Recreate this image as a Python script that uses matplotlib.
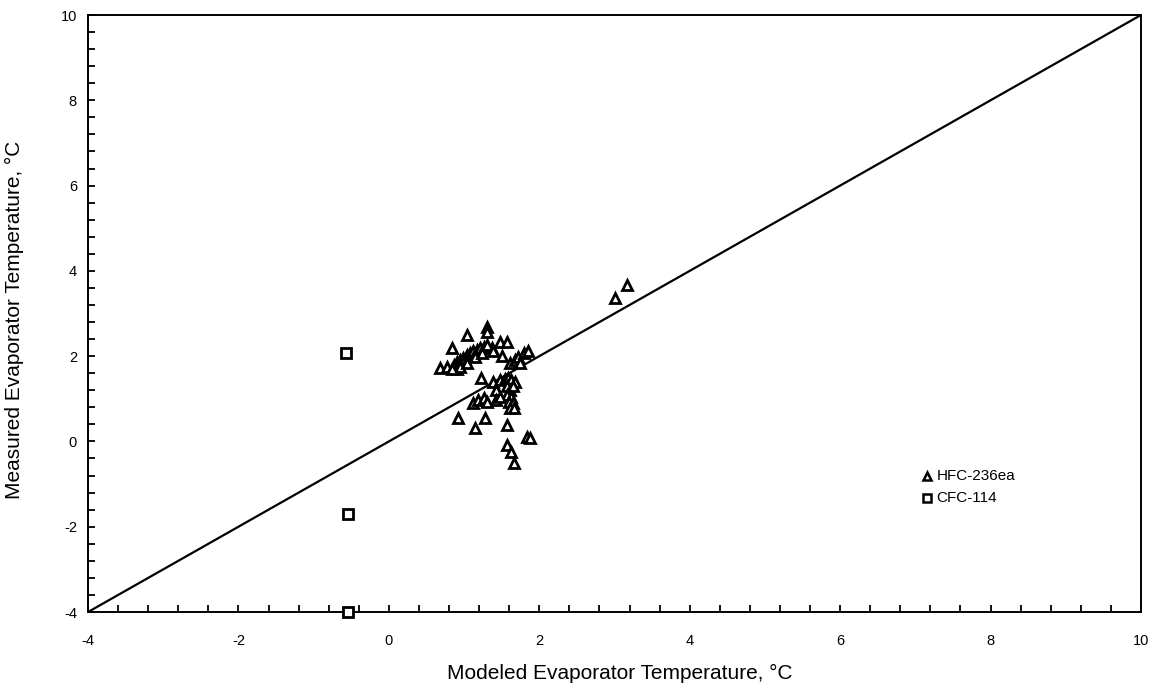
import matplotlib
matplotlib.use("Agg")
import matplotlib.pyplot as plt
from matplotlib.ticker import MultipleLocator
import numpy as np

plt.rcParams['font.family'] = ['Liberation Sans', 'DejaVu Sans']
plt.rcParams['axes.unicode_minus'] = False

hfc_x = [1.30, 1.30, 1.04, 1.48, 1.57, 0.84, 1.37, 1.50,
         0.68, 0.77, 0.86, 0.90, 0.95, 0.99, 1.04, 1.08, 1.12, 1.17, 1.21, 1.26, 1.30,
         0.90, 0.95, 0.84, 1.04, 1.15, 1.24, 1.39,
         1.61, 1.68, 1.72, 1.79, 1.85, 1.75,
         1.23, 1.39, 1.48, 1.55, 1.59, 1.63, 1.68,
         1.57, 1.61, 1.65, 1.57, 1.63, 1.60, 1.65, 1.61, 1.67,
         1.43, 1.43, 1.48,
         1.12, 1.19, 1.26, 1.30,
         0.92, 1.28, 1.15, 1.57, 1.83, 1.88, 1.57, 1.63, 1.66,
         3.01, 3.17]
hfc_y = [2.69, 2.57, 2.50, 2.34, 2.34, 2.18, 2.18, 2.00,
         1.72, 1.74, 1.79, 1.87, 1.91, 1.95, 2.03, 2.07, 2.11, 2.14, 2.18, 2.22, 2.26,
         1.71, 1.75, 1.69, 1.83, 1.99, 2.07, 2.12,
         1.83, 1.91, 1.99, 2.07, 2.11, 1.84,
         1.48, 1.40, 1.43, 1.46, 1.48, 1.43, 1.40,
         1.29, 1.21, 1.29, 1.09, 1.05, 0.93, 0.89, 0.78, 0.78,
         1.21, 0.97, 1.05,
         0.89, 0.97, 1.01, 0.93,
         0.54, 0.54, 0.31, 0.39, 0.11, 0.07, -0.08, -0.24, -0.51,
         3.36, 3.67]

cfc_x = [-0.57, -0.54, -0.55]
cfc_y = [2.07, -1.70, -4.0]

line_x = [-4, 10]
line_y = [-4, 10]

fig = plt.figure(figsize=(11.6, 6.92), dpi=100)
ax = fig.add_axes([0.0759, 0.1156, 0.9077, 0.8627])

ax.plot(line_x, line_y, color='black', lw=1.6, zorder=2)
mk = dict(linestyle='none', markersize=7, markerfacecolor='white',
          markeredgecolor='black', markeredgewidth=2.0, clip_on=False, zorder=3)
ax.plot(hfc_x, hfc_y, marker='^', **mk)
ax.plot(cfc_x, cfc_y, marker='s', **mk)

ax.set_xlim(-4, 10)
ax.set_ylim(-4, 10)
ax.xaxis.set_major_locator(MultipleLocator(2))
ax.yaxis.set_major_locator(MultipleLocator(2))
ax.xaxis.set_minor_locator(MultipleLocator(0.4))
ax.yaxis.set_minor_locator(MultipleLocator(0.4))
ax.tick_params(which='both', direction='in', top=False, right=False,
               length=5, width=1.3, labelsize=10.5)
ax.tick_params(axis='x', which='both', pad=16)
ax.tick_params(axis='y', which='both', pad=8)
for s in ax.spines.values():
    s.set_linewidth(1.4)

ax.set_xlabel('Modeled Evaporator Temperature, °C', fontsize=15)
ax.set_ylabel('Measured Evaporator Temperature, °C', fontsize=15)
ax.xaxis.set_label_coords(0.505, -0.087)
ax.yaxis.set_label_coords(-0.061, 0.49)

# legend
ax.plot([0.797], [0.228], transform=ax.transAxes, linestyle='none', marker='^',
        markersize=5.5, markerfacecolor='white', markeredgecolor='black', markeredgewidth=1.8)
ax.text(0.806, 0.228, 'HFC-236ea', transform=ax.transAxes, fontsize=11, va='center')
ax.plot([0.797], [0.191], transform=ax.transAxes, linestyle='none', marker='s',
        markersize=5.5, markerfacecolor='white', markeredgecolor='black', markeredgewidth=1.8)
ax.text(0.806, 0.191, 'CFC-114', transform=ax.transAxes, fontsize=11, va='center')

fig.savefig('out.png', dpi=100)
